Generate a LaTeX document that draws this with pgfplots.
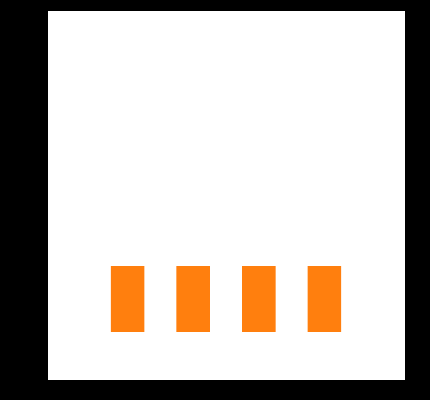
\documentclass[border=0pt]{standalone}
\usepackage{pgfplots}
\pgfplotsset{compat=1.18}
\definecolor{taborange}{HTML}{FF7F0E}
\begin{document}
\begin{tikzpicture}[x=1pt,y=1pt]
\fill[black] (0,0) rectangle (430,400);
\begin{axis}[
  at={(47pt,20pt)}, anchor=south west,
  width=358pt, height=370pt, scale only axis,
  xmin=-1.23, xmax=4.23, ymin=0, ymax=1,
  axis background/.style={fill=white},
  axis line style={draw=black},
  xtick=\empty, ytick=\empty,
  ybar stacked, bar width=0.51,
]
\addplot[draw=none, fill=none] coordinates {(0,0.13) (1,0.13) (2,0.13) (3,0.13)};
\addplot[draw=none, fill=taborange] coordinates {(0,0.178) (1,0.178) (2,0.178) (3,0.178)};
\end{axis}
\end{tikzpicture}
\end{document}
